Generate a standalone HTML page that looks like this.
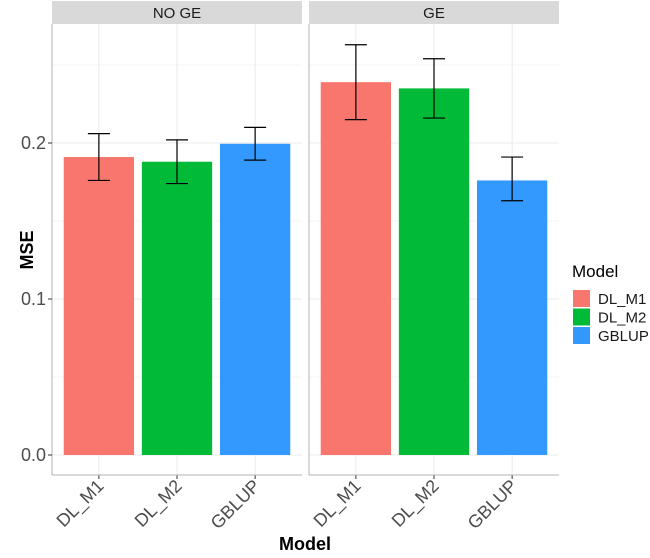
<!DOCTYPE html>
<html><head><meta charset="utf-8"><style>body{margin:0;background:#fff}text{font-family:"Liberation Sans",sans-serif}</style></head>
<body>
<svg id="c" width="650" height="553" xmlns="http://www.w3.org/2000/svg"></svg>
<script>
const panels = ["NO GE", "GE"];
const categories = ["DL_M1", "DL_M2", "GBLUP"];
const colors = ["#F8766D", "#00BA38", "#3399FF"];
const meanNoGE = [0.191, 0.188, 0.1995];
const lowNoGE = [0.176, 0.174, 0.189];
const highNoGE = [0.206, 0.202, 0.210];
const meanGE = [0.239, 0.235, 0.176];
const lowGE = [0.215, 0.216, 0.163];
const highGE = [0.263, 0.254, 0.191];
const yTicks = [0.0, 0.1, 0.2];
const yTickLabels = ["0.0", "0.1", "0.2"];

const NS = "http://www.w3.org/2000/svg";
const svg = document.getElementById("c");
function el(t, a, p) { const e = document.createElementNS(NS, t); for (const k in a) e.setAttribute(k, a[k]); (p || svg).appendChild(e); return e; }
const y0 = 455, ppu = 1560;
const Y = v => y0 - v * ppu;
const panelX = [52, 309], pw = 250, topY = 24, bottomY = 475;
const unit = pw / 3.2;
const X = (pi, i) => panelX[pi] + (0.6 + i) * unit;
const means = [meanNoGE, meanGE], lows = [lowNoGE, lowGE], highs = [highNoGE, highGE];

panels.forEach((pn, pi) => {
  const g = el("g", {});
  
  
  const x0 = panelX[pi];
  const strip = el("rect", {x: x0, y: 1, width: pw, height: topY - 1, fill: "#D9D9D9"}, g);
  
  
  const st = el("text", {x: x0 + pw / 2, y: 18, "text-anchor": "middle", "font-size": 15, fill: "#1a1a1a"}, g);
  st.textContent = pn;
  
  
  for (let k = 0; k <= 5; k++) {
    const v = k * 0.05;
    const major = k % 2 === 0;
    el("line", {x1: x0, x2: x0 + pw, y1: Y(v), y2: Y(v), stroke: "#EBEBEB", "stroke-width": major ? 1 : 0.5}, g);
  }
  categories.forEach((c, i) => el("line", {x1: X(pi, i), x2: X(pi, i), y1: topY, y2: bottomY, stroke: "#EBEBEB", "stroke-width": 1}, g));
  categories.forEach((c, i) => {
    const cx = X(pi, i), bw = 0.9 * unit, m = means[pi][i];
    const b = el("rect", {x: cx - bw / 2, y: Y(m), width: bw, height: Y(0) - Y(m), fill: colors[i]}, g);
    
    
    const e = el("path", {d: `M${cx - 11},${Y(highs[pi][i])}H${cx + 11}M${cx},${Y(highs[pi][i])}V${Y(lows[pi][i])}M${cx - 11},${Y(lows[pi][i])}H${cx + 11}`, stroke: "#000", "stroke-width": 1.2, fill: "none"}, g);
    
    
    el("line", {x1: cx, x2: cx, y1: bottomY, y2: bottomY + 4, stroke: "#333"}, g);
    const t = el("text", {transform: `translate(${cx + 6},${bottomY + 12}) rotate(-45)`, "text-anchor": "end", "font-size": 18, fill: "#4d4d4d"}, g);
    t.textContent = c;
    
    
  });
  el("line", {x1: x0, x2: x0 + pw, y1: bottomY, y2: bottomY, stroke: "#B3B3B3"}, g);
  el("line", {x1: x0, x2: x0, y1: topY, y2: bottomY, stroke: "#B3B3B3"}, g);
});
yTicks.forEach((v, i) => {
  el("line", {x1: 48, x2: 52, y1: Y(v), y2: Y(v), stroke: "#333"});
  const t = el("text", {x: 46, y: Y(v) + 6, "text-anchor": "end", "font-size": 18, fill: "#4d4d4d"});
  t.textContent = yTickLabels[i];
  
  
});
const yt = el("text", {transform: "translate(33,250) rotate(-90)", "text-anchor": "middle", "font-size": 18, "font-weight": "bold"});
yt.textContent = "MSE";


const xt = el("text", {x: 305, y: 550, "text-anchor": "middle", "font-size": 18, "font-weight": "bold"});
xt.textContent = "Model";


const lg = el("g", {});


const lt = el("text", {x: 572, y: 277, "font-size": 17}, lg);
lt.textContent = "Model";
categories.forEach((c, i) => {
  const r = el("rect", {x: 573, y: 290 + i * 18.5, width: 17, height: 17, fill: colors[i]}, lg);
  
  
  const t = el("text", {x: 598, y: 304 + i * 18.5, "font-size": 15, fill: "#1a1a1a"}, lg);
  t.textContent = c;
  
  
});
</script>
</body></html>
